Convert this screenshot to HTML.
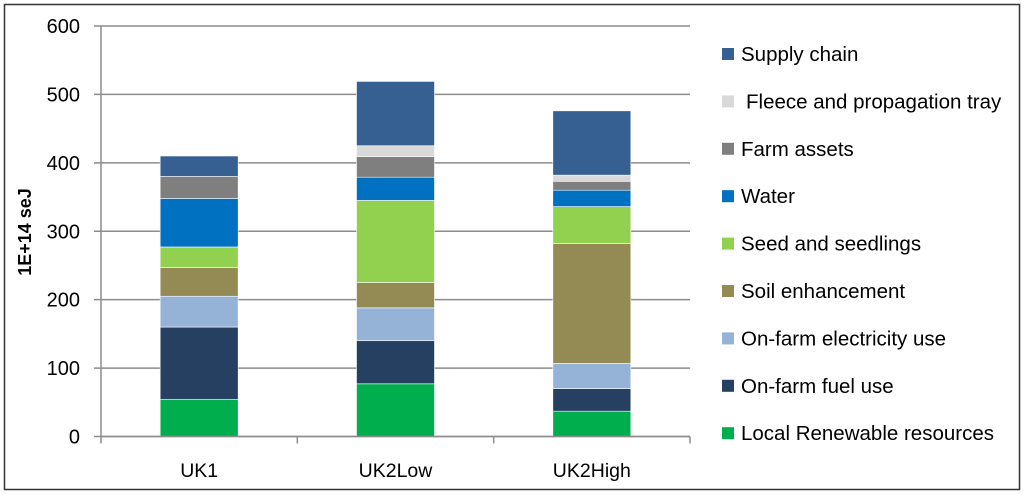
<!DOCTYPE html>
<html><head><meta charset="utf-8"><style>
body{margin:0;background:#fff;}
svg{display:block;font-family:"Liberation Sans",sans-serif;}
</style></head><body>
<svg id="chart" width="1024" height="495">
<rect x="4.5" y="4.5" width="1015" height="485" fill="#fff" stroke="#333" stroke-width="1.5"/>
<g id="grid"></g><g id="bars"></g><g id="axes"></g><g id="legend"></g>
<text transform="translate(31,232) rotate(-90)" text-anchor="middle" font-size="18" font-weight="bold" fill="#000">1E+14 seJ</text>
</svg>
<script>
const categories=["UK1","UK2Low","UK2High"];
const seriesNames=["Local Renewable resources","On-farm fuel use","On-farm electricity use","Soil enhancement","Seed and seedlings","Water","Farm assets","Fleece and propagation tray","Supply chain"];
const seriesColors=["#00ae4d","#264061","#95b3d7","#948a54","#92d050","#0070c0","#7f7f7f","#d9d9d9","#366092"];
const localRenewable=[54,77,37];
const fuelUse=[106,63,33];
const electricityUse=[45,48,37];
const soilEnhancement=[42,37,175];
const seedSeedlings=[30,120,54];
const water=[71,34,24];
const farmAssets=[32,30,13];
const fleeceTray=[0,16,9];
const supplyChain=[30,94,94];
const yTicks=[0,100,200,300,400,500,600];
const series=[localRenewable,fuelUse,electricityUse,soilEnhancement,seedSeedlings,water,farmAssets,fleeceTray,supplyChain];
const NS="http://www.w3.org/2000/svg";
const x0=101,x1=690,y0=436.5,yTop=26,yMax=600;
const yS=v=>y0-(v/yMax)*(y0-yTop);
const catW=(x1-x0)/categories.length;
const xC=i=>x0+catW*(i+0.5);
const barW=78;
function mk(tag,attrs,parent){const e=document.createElementNS(NS,tag);for(const k in attrs)e.setAttribute(k,attrs[k]);document.getElementById(parent).appendChild(e);return e;}
yTicks.forEach(t=>{
  const g=mk('line',{x1:94,x2:x1,y1:yS(t),y2:yS(t),stroke:'#8c8c8c','stroke-width':1.5},'grid');
  
  
  const l=mk('text',{x:80,y:yS(t)+7,'text-anchor':'end','font-size':20,fill:'#000'},'axes');
  l.textContent=t;
  
  
});
categories.forEach((c,i)=>{
  let cum=0;
  series.forEach((s,j)=>{
    const v=s[i];
    if(v>0){
      const r=mk('rect',{x:xC(i)-barW/2,y:yS(cum+v),width:barW,height:yS(cum)-yS(cum+v),fill:seriesColors[j],stroke:'#fff','stroke-width':0.6},'bars');
      
      
    }
    cum+=v;
  });
  const l=mk('text',{x:xC(i),y:477,'text-anchor':'middle','font-size':19.5,fill:'#000'},'axes');
  l.textContent=c;
  
  
});
for(let i=0;i<=categories.length;i++){
  const t=mk('line',{x1:x0+catW*i,x2:x0+catW*i,y1:y0,y2:y0+7,stroke:'#8c8c8c','stroke-width':1.5},'axes');
  
  
}
const ya=mk('line',{x1:x0,x2:x0,y1:yTop,y2:y0,stroke:'#8c8c8c','stroke-width':1.5},'axes');


const xa=mk('line',{x1:x0,x2:x1,y1:y0,y2:y0,stroke:'#8c8c8c','stroke-width':1.5},'axes');


for(let j=seriesNames.length-1;j>=0;j--){
  const k=seriesNames.length-1-j;
  const y=54+k*47.4;
  const s=mk('rect',{x:722,y:y-6,width:12,height:12,fill:seriesColors[j]},'legend');
  
  
  const t=mk('text',{x:j==7?746:741,y:y+7,'font-size':20.5,fill:'#000'},'legend');
  t.textContent=seriesNames[j];
  
  
}
</script>
</body></html>
